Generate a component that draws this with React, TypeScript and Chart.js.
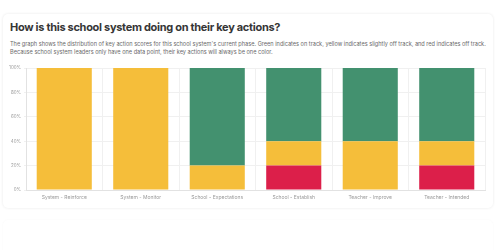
import React, { useEffect, useRef } from "react";
import { Chart, registerables } from "chart.js";

Chart.register(...registerables);

const categories = [
  "System - Reinforce",
  "System - Monitor",
  "School - Expectations",
  "School - Establish",
  "Teacher - Improve",
  "Teacher - Intended",
];
const offTrack = [0, 0, 0, 20, 0, 20];
const slightlyOff = [100, 100, 20, 20, 40, 20];
const onTrack = [0, 0, 80, 60, 60, 60];
const yTicks = [0, 20, 40, 60, 80, 100];

const RED = "#DC1F4A";
const YELLOW = "#F5BE3A";
const GREEN = "#43916F";

export default function App() {
  const ref = useRef<HTMLCanvasElement>(null);
  useEffect(() => {
    document.body.style.margin = "0";
    const chart = new Chart(ref.current!, {
      type: "bar",
      data: {
        labels: categories,
        datasets: [
          { label: "Off track", data: offTrack, backgroundColor: RED },
          { label: "Slightly off track", data: slightlyOff, backgroundColor: YELLOW },
          { label: "On track", data: onTrack, backgroundColor: GREEN },
        ],
      },
      options: {
        animation: false,
        responsive: false,
        maintainAspectRatio: false,
        layout: { padding: { left: 0, right: 15, top: 8, bottom: 0 } },
        plugins: { legend: { display: false }, tooltip: { enabled: false } },
        datasets: { bar: { categoryPercentage: 0.8, barPercentage: 0.9 } },
        scales: {
          x: {
            stacked: true,
            grid: { color: "#f0f0f0", tickLength: 0, offset: true },
            border: { color: "#e2e2e2" },
            ticks: {
              color: "#999",
              font: { family: "Inter", size: 5 },
              padding: 4,
              maxRotation: 0,
              autoSkip: false,
            },
          },
          y: {
            stacked: true,
            min: 0,
            max: 100,
            afterFit: (s: any) => {
              s.width = 26;
            },
            afterBuildTicks: (s: any) => {
              s.ticks = yTicks.map((v) => ({ value: v }));
            },
            grid: { color: "#f0f0f0", tickLength: 2 },
            border: { color: "#e2e2e2" },
            ticks: {
              color: "#999",
              font: { family: "Inter", size: 4.5 },
              padding: 3,
              callback: (v: any) => v + "%",
            },
          },
        },
      },
    });
    return () => chart.destroy();
  }, []);

  return (
    <div
      style={{
        position: "relative",
        width: 500,
        height: 250,
        background: "#fff",
        fontFamily: "Inter, sans-serif",
        overflow: "hidden",
      }}
    >
      <div
        style={{
          position: "absolute",
          left: 3,
          top: 14,
          width: 490,
          height: 194,
          borderRadius: 5,
          boxShadow: "0 0 3px rgba(0,0,0,0.09)",
          background: "#fff",
        }}
      />
      <div
        style={{
          position: "absolute",
          left: 3,
          top: 220,
          width: 490,
          height: 60,
          borderRadius: 5,
          boxShadow: "0 0 2px rgba(0,0,0,0.04)",
          background: "#fff",
        }}
      />
      <div
        style={{
          position: "absolute",
          left: 10,
          top: 21,
          fontSize: 11,
          lineHeight: "13px",
          fontWeight: 700,
          color: "#363636",
          whiteSpace: "nowrap",
          letterSpacing: -0.3,
        }}
      >
        How is this school system doing on their key actions?
      </div>
      <div
        style={{
          position: "absolute",
          left: 10,
          top: 40,
          width: 480,
          fontSize: 5.6,
          lineHeight: "8px",
          color: "#6a6a6a",
        }}
      >
        The graph shows the distribution of key action scores for this school system's current phase. Green indicates on track, yellow indicates slightly off track, and red indicates off track.
        <br />
        Because school system leaders only have one data point, their key actions will always be one color.
      </div>
      <canvas
        ref={ref}
        width={500}
        height={144}
        style={{ position: "absolute", left: 0, top: 60, width: 500, height: 144 }}
      />
    </div>
  );
}
